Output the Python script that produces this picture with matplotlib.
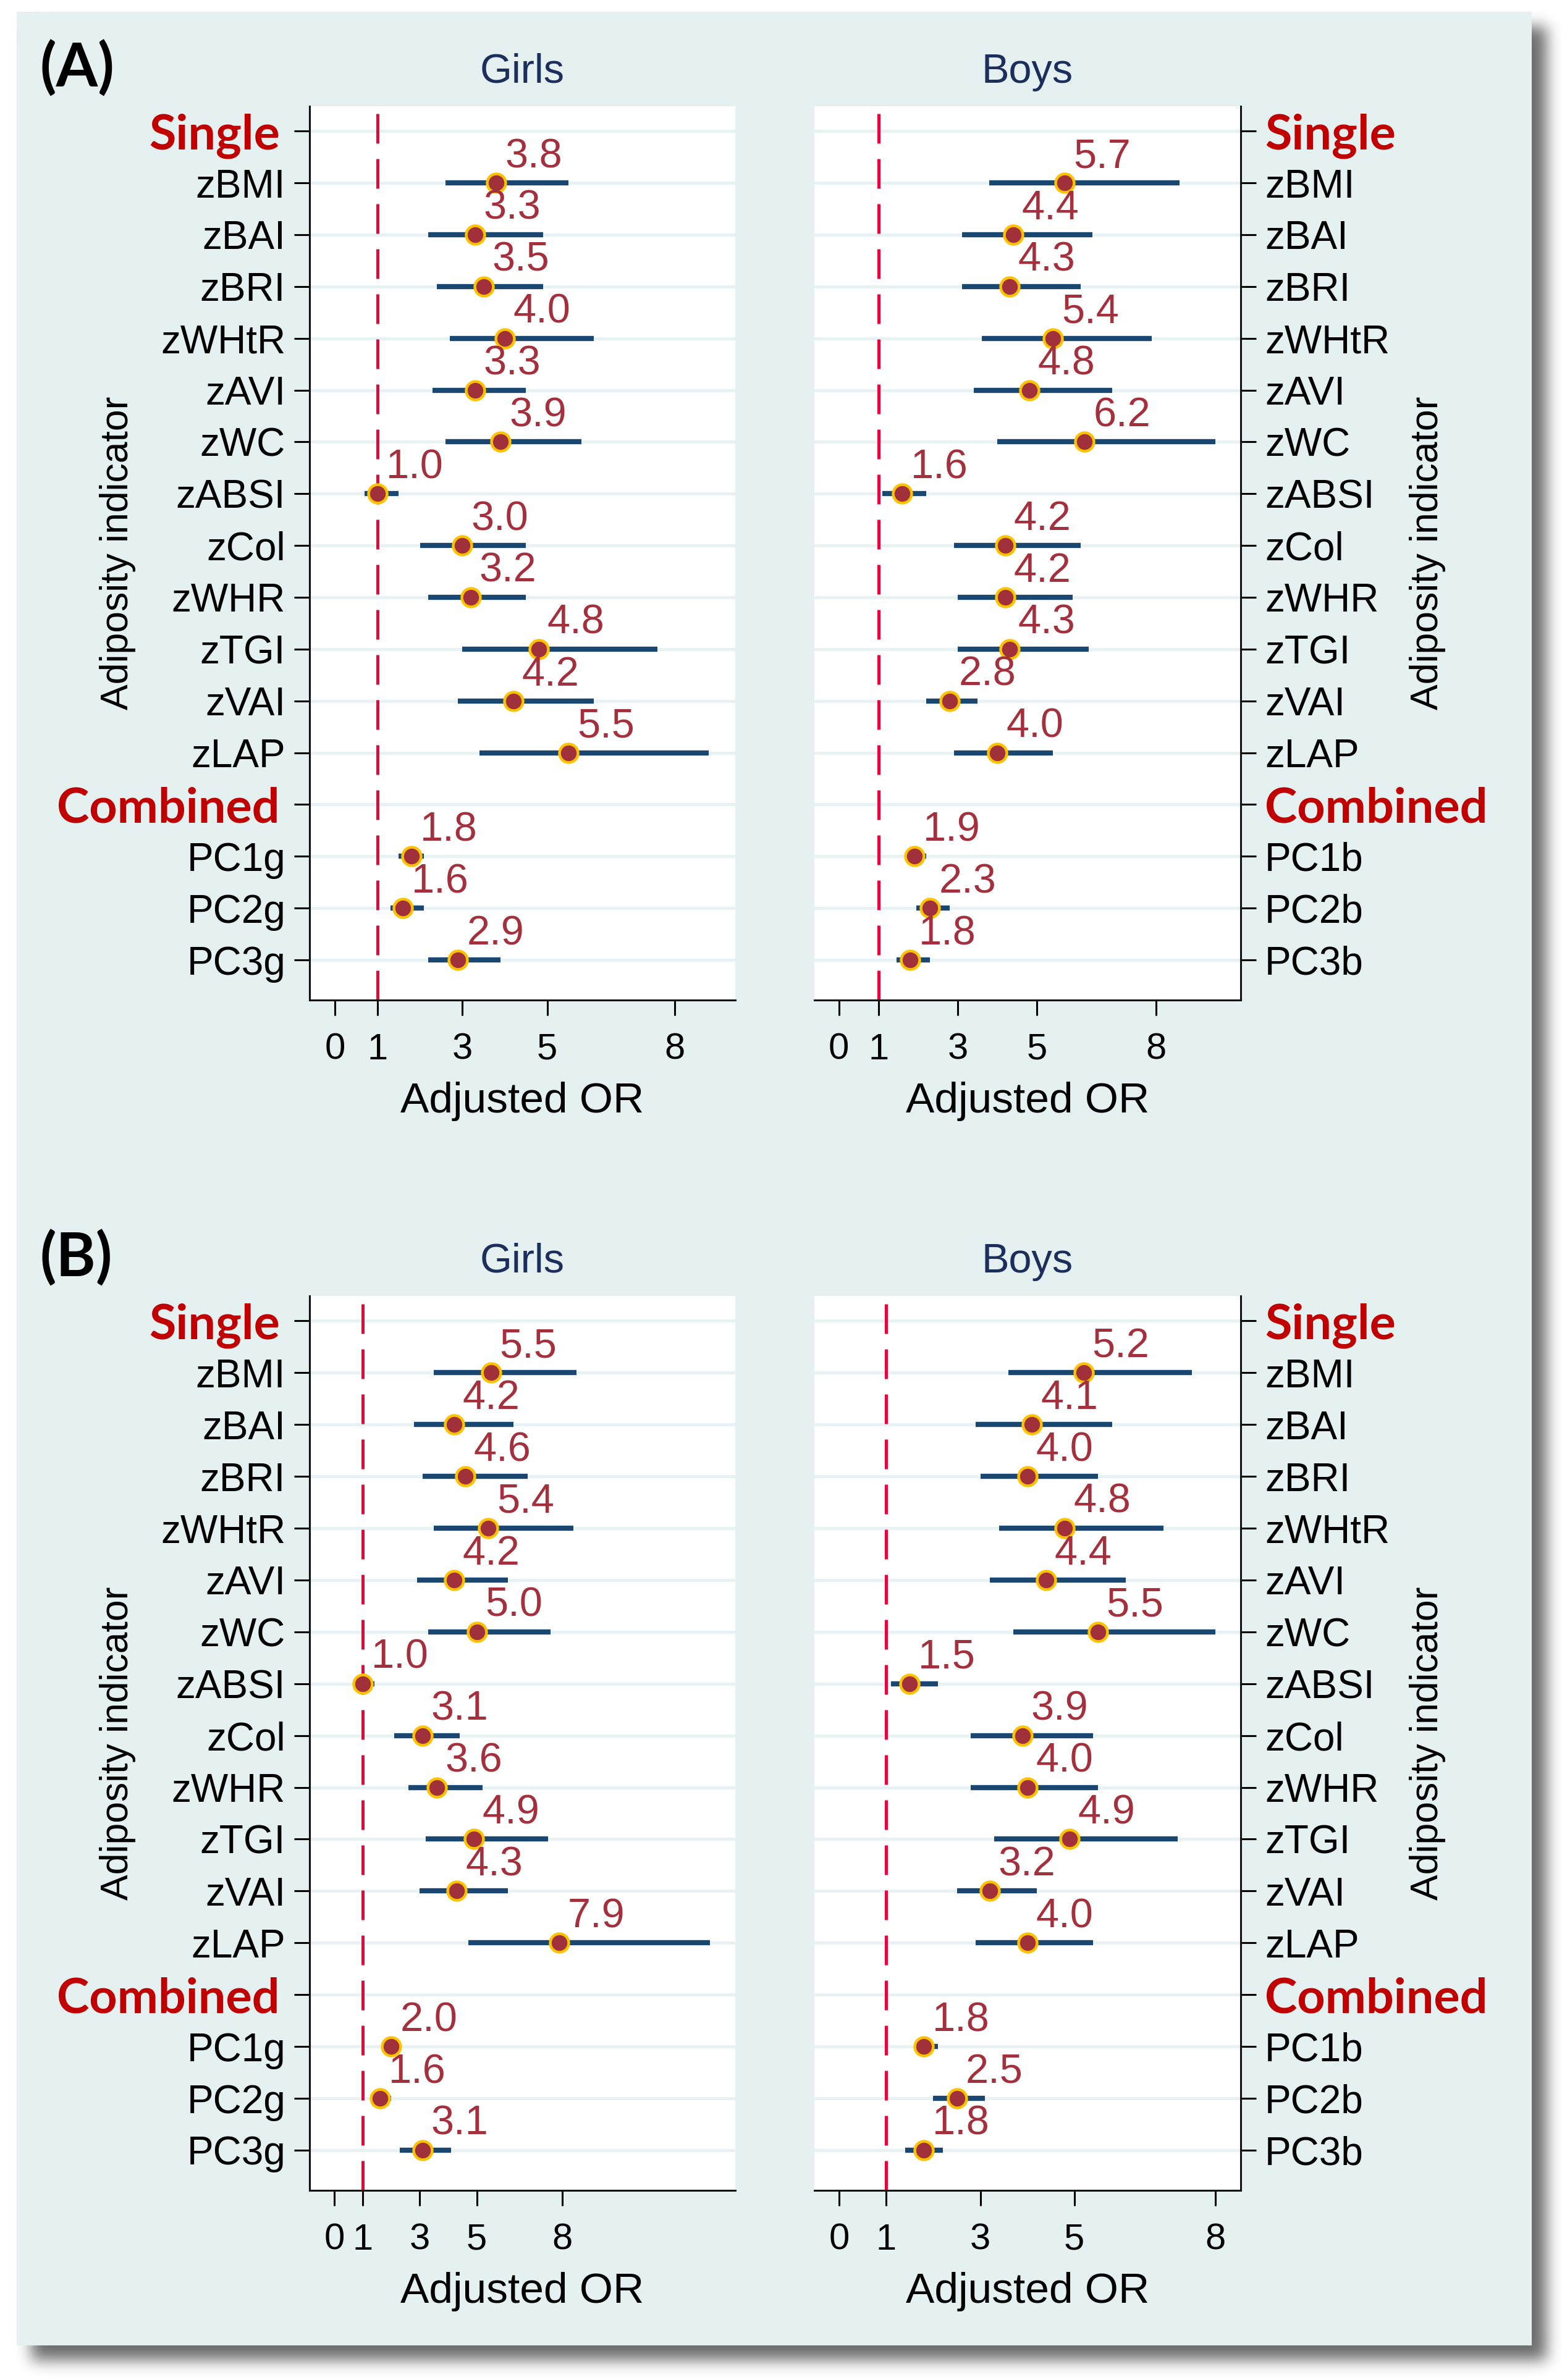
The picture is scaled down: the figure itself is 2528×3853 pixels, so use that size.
import math

import numpy as np
import matplotlib
matplotlib.use("Agg")

import matplotlib.pyplot as plt
from matplotlib.patches import Rectangle
from matplotlib.transforms import ScaledTranslation

W, H = 2528, 3853
DPI = 100

# ---- data -------------------------------------------------------------
rows_girls = ["Single", "zBMI", "zBAI", "zBRI", "zWHtR", "zAVI", "zWC", "zABSI",
              "zCol", "zWHR", "zTGI", "zVAI", "zLAP", "Combined", "PC1g", "PC2g", "PC3g"]
rows_boys = ["Single", "zBMI", "zBAI", "zBRI", "zWHtR", "zAVI", "zWC", "zABSI",
             "zCol", "zWHR", "zTGI", "zVAI", "zLAP", "Combined", "PC1b", "PC2b", "PC3b"]
headers = ["Single", "Combined"]
xticks = [0, 1, 3, 5, 8]

# (A) girls
or_a_girls = [3.8, 3.3, 3.5, 4.0, 3.3, 3.9, 1.0, 3.0, 3.2, 4.8, 4.2, 5.5, 1.8, 1.6, 2.9]
lo_a_girls = [2.6, 2.2, 2.4, 2.7, 2.3, 2.6, 0.7, 2.0, 2.2, 3.0, 2.9, 3.4, 1.5, 1.3, 2.2]
hi_a_girls = [5.5, 4.9, 4.9, 6.1, 4.5, 5.8, 1.5, 4.5, 4.5, 7.6, 6.1, 8.8, 2.1, 2.1, 3.9]
# (A) boys
or_a_boys = [5.7, 4.4, 4.3, 5.4, 4.8, 6.2, 1.6, 4.2, 4.2, 4.3, 2.8, 4.0, 1.9, 2.3, 1.8]
lo_a_boys = [3.8, 3.1, 3.1, 3.6, 3.4, 4.0, 1.1, 2.9, 3.0, 3.0, 2.2, 2.9, 1.65, 1.95, 1.45]
hi_a_boys = [8.6, 6.4, 6.1, 7.9, 6.9, 9.5, 2.2, 6.1, 5.9, 6.3, 3.5, 5.4, 2.2, 2.8, 2.3]
# (B) girls
or_b_girls = [5.5, 4.2, 4.6, 5.4, 4.2, 5.0, 1.0, 3.1, 3.6, 4.9, 4.3, 7.9, 2.0, 1.6, 3.1]
lo_b_girls = [3.5, 2.8, 3.1, 3.5, 2.9, 3.3, 0.8, 2.1, 2.6, 3.2, 3.0, 4.7, 1.7, 1.35, 2.3]
hi_b_girls = [8.5, 6.3, 6.8, 8.4, 6.1, 7.6, 1.4, 4.4, 5.2, 7.5, 6.1, 13.2, 2.35, 2.0, 4.1]
# (B) boys
or_b_boys = [5.2, 4.1, 4.0, 4.8, 4.4, 5.5, 1.5, 3.9, 4.0, 4.9, 3.2, 4.0, 1.8, 2.5, 1.8]
lo_b_boys = [3.6, 2.9, 3.0, 3.4, 3.2, 3.7, 1.1, 2.8, 2.8, 3.3, 2.5, 2.9, 1.6, 2.0, 1.4]
hi_b_boys = [7.5, 5.8, 5.5, 6.9, 6.1, 8.0, 2.1, 5.4, 5.5, 7.2, 4.2, 5.4, 2.1, 3.1, 2.2]

# ---- style ------------------------------------------------------------
BG = "#E5F0F1"
GRID = "#E8F1F3"
CI_COL = "#1A476F"
PT_FILL = "#A0303A"
PT_RING = "#FFC200"
LBL_COL = "#A3303C"
REF_COL = "#E8063C"
HEAD_COL = "#C00000"
TITLE_COL = "#1C2E5C"
SANS = ["Liberation Sans", "DejaVu Sans"]
BOLD = ["Lato", "DejaVu Sans"]

plt.rcParams["font.family"] = SANS


def px(x, y):
    return x / W, 1 - y / H


def axes_rect(x0, x1, y0, y1):
    return [x0 / W, 1 - y1 / H, (x1 - x0) / W, (y1 - y0) / H]


def draw_panel(fig, ax, rows, or_, lo, hi, xlim, side):
    names = [r for r in rows if r not in headers]
    ypos = [rows.index(n) for n in names]

    ax.set_facecolor("white")
    ax.set_xlim(*xlim)
    ax.set_ylim(len(rows) - 1 + 0.775, -0.48)
    ax.set_yticks(range(len(rows)))
    ax.set_yticklabels(rows)
    ax.set_xticks(xticks)
    ax.set_xticklabels([str(t) for t in xticks])
    ax.yaxis.grid(True, color=GRID, lw=3.6)
    ax.set_axisbelow(True)

    ax.axvline(1, color=REF_COL, lw=3.6, dashes=(9.6, 5.0), zorder=2)
    ax.hlines(ypos, lo, hi, color=CI_COL, lw=6, zorder=3)
    ax.plot(or_, ypos, "o", ms=21.5, mfc=PT_FILL, mec=PT_RING, mew=3.2, zorder=4)
    for v, y in zip(or_, ypos):
        ax.annotate(f"{v:.1f}", (v, y), xytext=(10, 18), textcoords="offset points",
                    ha="left", va="baseline", fontsize=48, color=LBL_COL, zorder=5)

    ax.spines["top"].set_visible(False)
    for s in ["bottom", "left", "right"]:
        ax.spines[s].set_linewidth(2.2)
        ax.spines[s].set_color("#111111")
    if side == "left":
        ax.spines["right"].set_visible(False)
        ax.yaxis.tick_left()
    else:
        ax.spines["left"].set_visible(False)
        ax.yaxis.tick_right()
    ax.tick_params(axis="y", length=18, width=2.2, pad=10, labelsize=46)
    ax.tick_params(axis="x", length=18, width=2.2, pad=20, labelsize=43)

    # header rows in bold red, nudged a little away from the ticks on the left
    shift = ScaledTranslation(-0.09, 0, fig.dpi_scale_trans) if side == "left" else None
    for lab in ax.get_yticklabels():
        if lab.get_text() in headers:
            lab.set_color(HEAD_COL)
            lab.set_fontfamily(BOLD)
            lab.set_fontweight("bold")
            lab.set_fontsize(57)
            if shift is not None:
                lab.set_transform(lab.get_transform() + shift)


fig = plt.figure(figsize=(W / DPI, H / DPI), dpi=DPI)

# background box with soft drop shadow
bg = fig.add_axes([0, 0, 1, 1], zorder=-5)
bg.set_xlim(0, W)
bg.set_ylim(H, 0)
bg.axis("off")
erf = np.vectorize(math.erf)
box = (27, 19, 2479, 3797)
off, sig = 24, 12
xs = np.arange(W) + 0.5
ys = np.arange(H) + 0.5
fx = 0.5 * (erf((xs - box[0] - off) / (sig * 1.414)) - erf((xs - box[2] - off) / (sig * 1.414)))
fy = 0.5 * (erf((ys - box[1] - off) / (sig * 1.414)) - erf((ys - box[3] - off) / (sig * 1.414)))
shadow = np.zeros((H, W, 4))
shadow[..., 3] = 0.58 * np.outer(fy, fx)
bg.imshow(shadow, extent=(0, W, H, 0), interpolation="bilinear", zorder=0)
bg.add_patch(Rectangle((box[0], box[1]), box[2] - box[0], box[3] - box[1],
                       facecolor=BG, edgecolor="none", zorder=1))

panels = [
    ("(A)", 172, 1619, [
        (rows_girls, or_a_girls, lo_a_girls, hi_a_girls, (-0.6, 9.43), "left"),
        (rows_boys, or_a_boys, lo_a_boys, hi_a_boys, (-0.62, 10.14), "right"),
    ]),
    ("(B)", 2098, 3546, [
        (rows_girls, or_b_girls, lo_b_girls, hi_b_girls, (-0.87, 14.08), "left"),
        (rows_boys, or_b_boys, lo_b_boys, hi_b_boys, (-0.53, 8.54), "right"),
    ]),
]
xspans = [(501, 1190), (1318, 2008)]
titles = ["Girls", "Boys"]

for tag, y0, y1, subs in panels:
    fig.text(*px(64, y0 - 62), tag, ha="left", va="center", fontsize=70,
             fontweight="bold", family=BOLD, color="black")
    for (x0, x1), title, (rows, o, l, h, xl, side) in zip(xspans, titles, subs):
        ax = fig.add_axes(axes_rect(x0, x1, y0, y1))
        draw_panel(fig, ax, rows, o, l, h, xl, side)
        xc = (x0 + x1) / 2
        fig.text(*px(xc, y0 - 55), title, ha="center", va="center",
                 fontsize=48, color=TITLE_COL)
        fig.text(*px(xc, y1 + 164), "Adjusted OR", ha="center", va="center",
                 fontsize=50, color="black")
        ylab_x = 190 if side == "left" else 2311
        fig.text(*px(ylab_x, (y0 + y1) / 2), "Adiposity indicator", rotation=90,
                 ha="center", va="center", fontsize=45, color="black")

fig.savefig("out.png", dpi=DPI)
plt.close(fig)
